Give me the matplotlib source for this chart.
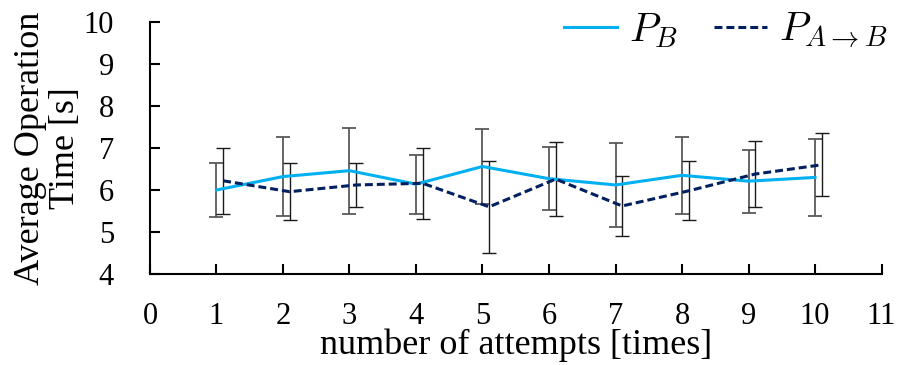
import matplotlib
matplotlib.use('Agg')
import matplotlib.pyplot as plt
import numpy as np

# Datos: tiempo promedio de operación por intento
intentos = [1, 2, 3, 4, 5, 6, 7, 8, 9, 10]

pb_media = [6.00, 6.32, 6.46, 6.14, 6.56, 6.27, 6.12, 6.35, 6.21, 6.30]
pb_error = [0.65, 0.95, 1.02, 0.70, 0.90, 0.75, 1.01, 0.92, 0.75, 0.91]

pab_media = [6.22, 5.96, 6.12, 6.16, 5.60, 6.26, 5.62, 5.98, 6.38, 6.60]
pab_error = [0.78, 0.68, 0.52, 0.84, 1.10, 0.88, 0.72, 0.70, 0.79, 0.75]

x_ticks = list(range(0, 12))
y_ticks = [4, 5, 6, 7, 8, 9, 10]

plt.rcParams['font.family'] = ['Liberation Serif', 'DejaVu Serif']
plt.rcParams['mathtext.fontset'] = 'cm'

color_pb = '#00B0F0'
color_pab = '#002060'

fig = plt.figure(figsize=(9.03, 3.65), dpi=100)
ax = fig.add_axes([0.1661, 0.2493, 0.8101, 0.6904])

x = np.array(intentos, dtype=float)
desplazamiento = 0.1  # separa un poco las barras de error de la segunda serie

# barras de error
ax.errorbar(x, pb_media, yerr=pb_error, fmt='none', ecolor='#595959',
            elinewidth=1.3, capsize=5, capthick=1.3, zorder=2)
ax.errorbar(x + desplazamiento, pab_media, yerr=pab_error, fmt='none',
            ecolor='#1a1a1a', elinewidth=1.0, capsize=5, capthick=1.0, zorder=2)

# líneas
ax.plot(x, pb_media, color=color_pb, linewidth=2.2, label='$P_B$', zorder=3)
ax.plot(x + desplazamiento, pab_media, color=color_pab, linewidth=2.2,
        linestyle=(0, (2.6, 1.3)), label=r'$P_{A\rightarrow B}$', zorder=3)

ax.set_xlim(0, 11)
ax.set_ylim(4, 10)
ax.set_xticks(x_ticks)
ax.set_yticks(y_ticks)

for lado in ['top', 'right']:
    ax.spines[lado].set_visible(False)
for lado in ['left', 'bottom']:
    ax.spines[lado].set_linewidth(1.5)

ax.tick_params(axis='both', direction='in', length=7, width=1.5, labelsize=22)
ax.tick_params(axis='x', pad=20)
ax.tick_params(axis='y', pad=26)

ax.set_xlabel('number of attempts [times]', fontsize=26, labelpad=-2)
ax.set_ylabel('Average Operation\nTime [s]', fontsize=26, labelpad=1,
              linespacing=1.1)

ax.legend(loc='upper right', bbox_to_anchor=(1.057, 1.19), ncol=2,
          frameon=False, fontsize=29, handlelength=1.3, columnspacing=0.9,
          handletextpad=0.3)

plt.savefig('out.png', dpi=100)
